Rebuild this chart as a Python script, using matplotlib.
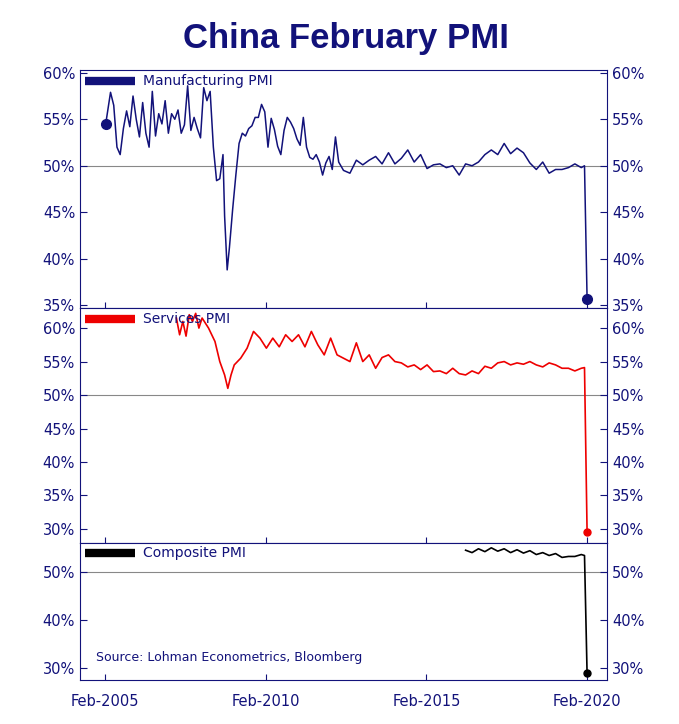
import matplotlib
matplotlib.use("Agg")
import matplotlib.pyplot as plt
from matplotlib.ticker import FuncFormatter

# decimal-year dates and values
mfg_t = [2005.1,2005.25,2005.35,2005.45,2005.55,2005.65,2005.75,2005.85,2005.95,2006.05,2006.15,2006.25,2006.35,2006.45,2006.55,2006.65,2006.75,2006.85,2006.95,2007.05,2007.15,2007.25,2007.35,2007.45,2007.55,2007.65,2007.75,2007.85,2007.95,2008.05,2008.15,2008.25,2008.35,2008.45,2008.55,2008.65,2008.75,2008.8,2008.88,2008.95,2009.05,2009.15,2009.25,2009.35,2009.45,2009.55,2009.65,2009.75,2009.85,2009.95,2010.05,2010.15,2010.25,2010.35,2010.45,2010.55,2010.65,2010.75,2010.85,2010.95,2011.05,2011.15,2011.25,2011.35,2011.45,2011.55,2011.65,2011.75,2011.85,2011.95,2012.05,2012.15,2012.25,2012.35,2012.5,2012.7,2012.9,2013.1,2013.3,2013.5,2013.7,2013.9,2014.1,2014.3,2014.5,2014.7,2014.9,2015.1,2015.3,2015.5,2015.7,2015.9,2016.1,2016.3,2016.5,2016.7,2016.9,2017.1,2017.3,2017.5,2017.7,2017.9,2018.1,2018.3,2018.5,2018.7,2018.9,2019.1,2019.3,2019.5,2019.7,2019.9,2020.0,2020.08]
mfg_v = [54.5,57.9,56.5,52.0,51.2,54.0,55.9,54.2,57.5,55.0,53.1,56.8,53.5,52.0,58.0,53.2,55.6,54.5,57.0,53.5,55.6,55.0,56.0,53.5,54.4,58.6,53.8,55.2,54.0,53.0,58.4,57.0,58.0,52.0,48.4,48.6,51.2,44.6,38.8,41.2,45.3,49.0,52.4,53.5,53.2,54.0,54.3,55.2,55.2,56.6,55.8,52.0,55.1,53.9,52.1,51.2,53.8,55.2,54.7,54.0,52.9,52.2,55.2,52.0,50.9,50.7,51.2,50.4,49.0,50.3,51.0,49.6,53.1,50.4,49.5,49.2,50.6,50.1,50.6,51.0,50.2,51.4,50.2,50.8,51.7,50.4,51.2,49.7,50.1,50.2,49.8,50.0,49.0,50.2,50.0,50.4,51.2,51.7,51.2,52.4,51.3,51.9,51.4,50.3,49.6,50.4,49.2,49.6,49.6,49.8,50.2,49.8,50.0,35.7]
svc_t = [2007.3,2007.4,2007.5,2007.6,2007.7,2007.8,2007.9,2008.0,2008.1,2008.3,2008.5,2008.65,2008.8,2008.9,2009.0,2009.1,2009.3,2009.5,2009.7,2009.9,2010.1,2010.3,2010.5,2010.7,2010.9,2011.1,2011.3,2011.5,2011.7,2011.9,2012.1,2012.3,2012.5,2012.7,2012.9,2013.1,2013.3,2013.5,2013.7,2013.9,2014.1,2014.3,2014.5,2014.7,2014.9,2015.1,2015.3,2015.5,2015.7,2015.9,2016.1,2016.3,2016.5,2016.7,2016.9,2017.1,2017.3,2017.5,2017.7,2017.9,2018.1,2018.3,2018.5,2018.7,2018.9,2019.1,2019.3,2019.5,2019.7,2019.9,2020.0,2020.08]
svc_v = [61.5,59.0,61.0,58.8,62.0,61.0,62.2,60.0,61.5,60.0,58.0,55.0,53.0,51.0,53.0,54.5,55.5,57.0,59.5,58.5,57.0,58.5,57.2,59.0,58.0,59.0,57.2,59.5,57.5,56.0,58.5,56.0,55.5,55.0,57.8,55.0,56.0,54.0,55.6,56.0,55.0,54.8,54.2,54.5,53.8,54.5,53.5,53.6,53.2,54.0,53.2,53.0,53.6,53.2,54.3,54.0,54.8,55.0,54.5,54.8,54.6,55.0,54.5,54.2,54.8,54.5,54.0,54.0,53.6,54.0,54.1,29.6]
cmp_t = [2016.3,2016.5,2016.7,2016.9,2017.1,2017.3,2017.5,2017.7,2017.9,2018.1,2018.3,2018.5,2018.7,2018.9,2019.1,2019.3,2019.5,2019.7,2019.9,2020.0,2020.08]
cmp_v = [54.5,54.0,54.8,54.2,55.0,54.3,54.8,54.0,54.6,53.9,54.4,53.6,54.0,53.4,53.8,53.0,53.2,53.2,53.6,53.4,28.9]

xticks = [2005.08, 2010.08, 2015.08, 2020.08]
xlabels = ["Feb-2005", "Feb-2010", "Feb-2015", "Feb-2020"]

NAVY = "#12127a"
fig = plt.figure(figsize=(6.79, 7.24), dpi=100)
fig.text(0.51, 0.947, "China February PMI", ha="center", va="center",
         fontsize=25, fontweight="bold", color=NAVY, family="Liberation Sans")

L, R = 80/679, 607/679
def ax_at(top, bot):
    return fig.add_axes([L, 1-bot/724, R-L, (bot-top)/724])

panels = [
    (70, 308, mfg_t, mfg_v, NAVY, "Manufacturing PMI", (34.7, 60.3), [35,40,45,50,55,60], 7),
    (308, 543, svc_t, svc_v, "#ee0000", "Services PMI", (27.9, 63.0), [30,35,40,45,50,55,60], 5),
    (543, 680, cmp_t, cmp_v, "black", "Composite PMI", (27.5, 56.0), [30,40,50], 5),
]
pct = FuncFormatter(lambda v, p: f"{v:.0f}%")
for i, (top, bot, t, v, c, name, ylim, yt, ms) in enumerate(panels):
    ax = ax_at(top, bot)
    ax.plot(t, v, color=c, lw=1.2 if i else 1.1)
    ax.plot([t[-1]], [v[-1]], "o", color=c, ms=ms)
    if i == 0:
        ax.plot([t[0]], [v[0]], "o", color=c, ms=ms)
    ax.axhline(50, color="#888888", lw=0.8, zorder=0)
    ax.set_xlim(2004.3, 2020.7)
    ax.set_ylim(*ylim)
    ax.set_yticks(yt)
    ax.yaxis.set_major_formatter(pct)
    ax.tick_params(axis="y", labelcolor=NAVY, colors=NAVY, labelsize=10.5,
                   right=True, labelright=True, direction="in", length=5)
    ax.set_xticks(xticks)
    ax.tick_params(axis="x", colors=NAVY, direction="in", length=4, labelsize=10.5)
    if i == 2:
        ax.set_xticklabels(xlabels)
        ax.tick_params(axis="x", pad=10)
        ax.text(0.03, 0.14, "Source: Lohman Econometrics, Bloomberg", transform=ax.transAxes,
                color=NAVY, fontsize=9)
    else:
        ax.set_xticklabels([])
    for s in ax.spines.values():
        s.set_color(NAVY)
    ax.plot([0.01, 0.105], [0.955 if i < 2 else 0.93]*2, transform=ax.transAxes,
            color=c, lw=6, solid_capstyle="butt")
    ax.text(0.12, 0.955 if i < 2 else 0.93, name, transform=ax.transAxes, va="center",
            color=NAVY, fontsize=10)

fig.savefig("out.png", dpi=100)
